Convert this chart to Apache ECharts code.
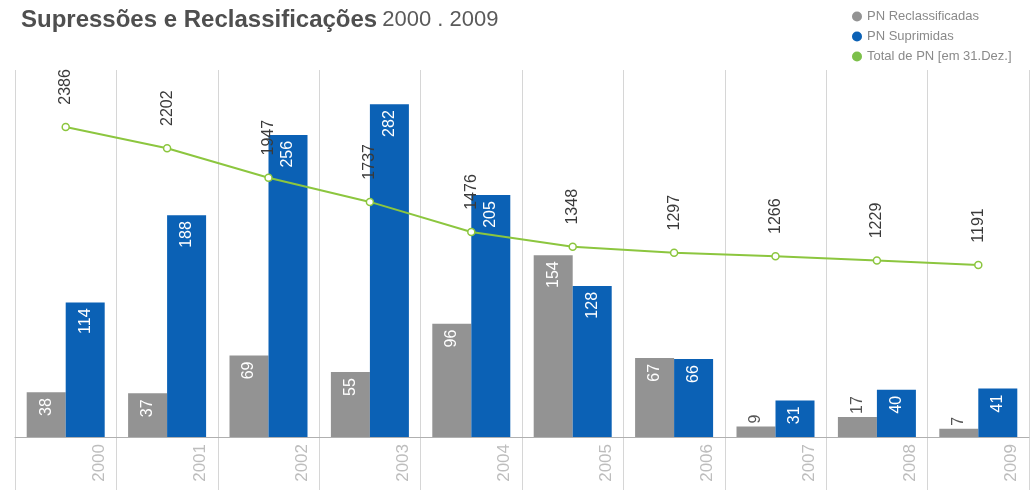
<!DOCTYPE html>
<html>
<head>
<meta charset="utf-8">
<script src="https://cdn.jsdelivr.net/npm/echarts@6/dist/echarts.min.js"></script>
<style>
  html, body { margin: 0; padding: 0; background: #fff; }
  #chart { width: 1033px; height: 491px; }
</style>
</head>
<body>
<div id="chart"></div>
<script>
// Anos
const categories = ['2000', '2001', '2002', '2003', '2004', '2005', '2006', '2007', '2008', '2009'];
// PN reclassificadas por ano
const reclassificadas = [38, 37, 69, 55, 96, 154, 67, 9, 17, 7];
// PN suprimidas por ano
const suprimidas = [114, 188, 256, 282, 205, 128, 66, 31, 40, 41];
// Total de PN em 31 de Dezembro
const totalPN = [2386, 2202, 1947, 1737, 1476, 1348, 1297, 1266, 1229, 1191];

const seriesNames = ['PN Reclassificadas', 'PN Suprimidas', 'Total de PN [em 31.Dez.]'];

const FONT = '"Liberation Sans", Arial, sans-serif';
const GREY = '#939393';
const BLUE = '#0b61b5';
const GREEN = '#8cc63f';
const SEP = '#d6d6d6';

// small grey bars carry their value just above the bar
const greyData = reclassificadas.map(v => v < 20
  ? { value: v, label: { position: 'top', distance: 3, align: 'left', color: '#555' } }
  : v);

const chart = echarts.init(document.getElementById('chart'), null, { renderer: 'canvas' });

chart.setOption({
  animation: false,
  backgroundColor: '#fff',
  title: {
    left: 16,
    top: 3,
    text: '{b|Supressões e Reclassificações} {l|2000 . 2009}',
    textStyle: {
      rich: {
        b: { fontFamily: FONT, fontSize: 24, fontWeight: 'bold', color: '#4f4f4f' },
        l: { fontFamily: FONT, fontSize: 22, fontWeight: 'normal', color: '#5a5a5a' }
      }
    }
  },
  legend: {
    orient: 'vertical',
    left: 847,
    top: 5,
    icon: 'circle',
    itemWidth: 10,
    itemHeight: 10,
    itemGap: 7,
    textStyle: { fontFamily: FONT, fontSize: 13, color: '#8a8a8a' },
    data: [
      { name: seriesNames[0], itemStyle: { color: GREY } },
      { name: seriesNames[1], itemStyle: { color: BLUE } },
      { name: seriesNames[2], itemStyle: { color: '#7cc04a', borderWidth: 0 } }
    ]
  },
  // plot area, plus a strip under it where the column separators continue
  grid: [
    { left: 15, right: 4, top: 70, bottom: 54, containLabel: false, outerBoundsMode: 'none' },
    { left: 15, right: 4, top: 437, bottom: 1, containLabel: false, outerBoundsMode: 'none' }
  ],
  xAxis: [
    {
      type: 'category',
      gridIndex: 0,
      data: categories,
      boundaryGap: true,
      axisLine: { lineStyle: { color: '#b0b0b0', width: 1 } },
      axisTick: { show: false },
      splitLine: { show: true, lineStyle: { color: SEP, width: 1 } },
      axisLabel: {
        interval: 0,
        rotate: 90,
        margin: 7,
        // years sit toward the right edge of their column
        align: 'right',
        verticalAlign: 'top',
        padding: [25, 0, 0, 0],
        fontFamily: FONT,
        fontSize: 17,
        color: '#bdbdbd'
      },
      z: 3
    },
    {
      type: 'category',
      gridIndex: 1,
      data: categories,
      boundaryGap: true,
      axisLine: { show: false },
      axisTick: { show: false },
      axisLabel: { show: false },
      splitLine: { show: true, lineStyle: { color: SEP, width: 1 } }
    }
  ],
  yAxis: [
    { type: 'value', gridIndex: 0, min: 0, max: 311, show: false, splitLine: { show: false } },
    { type: 'value', gridIndex: 0, min: -300, max: 2880, show: false, splitLine: { show: false } },
    { type: 'value', gridIndex: 1, min: 0, max: 1, show: false, splitLine: { show: false } }
  ],
  series: [
    {
      name: seriesNames[0],
      type: 'bar',
      xAxisIndex: 0,
      yAxisIndex: 0,
      data: greyData,
      barWidth: 39,
      barGap: '0%',
      itemStyle: { color: GREY },
      label: {
        show: true,
        position: 'insideTop',
        distance: 6,
        rotate: 90,
        align: 'right',
        verticalAlign: 'middle',
        fontFamily: FONT,
        fontSize: 16,
        color: '#fff'
      }
    },
    {
      name: seriesNames[1],
      type: 'bar',
      xAxisIndex: 0,
      yAxisIndex: 0,
      data: suprimidas,
      barWidth: 39,
      barGap: '0%',
      itemStyle: { color: BLUE },
      label: {
        show: true,
        position: 'insideTop',
        distance: 6,
        rotate: 90,
        align: 'right',
        verticalAlign: 'middle',
        fontFamily: FONT,
        fontSize: 16,
        color: '#fff'
      }
    },
    {
      name: seriesNames[2],
      type: 'line',
      xAxisIndex: 0,
      yAxisIndex: 1,
      data: totalPN,
      z: 5,
      symbol: 'circle',
      symbolSize: 7,
      lineStyle: { color: GREEN, width: 2 },
      itemStyle: { color: '#fff', borderColor: GREEN, borderWidth: 1.5 },
      label: {
        show: true,
        position: 'top',
        distance: 18,
        rotate: 90,
        align: 'left',
        verticalAlign: 'middle',
        fontFamily: FONT,
        fontSize: 16,
        color: '#3a3a3a'
      }
    }
  ]
});
</script>
</body>
</html>
